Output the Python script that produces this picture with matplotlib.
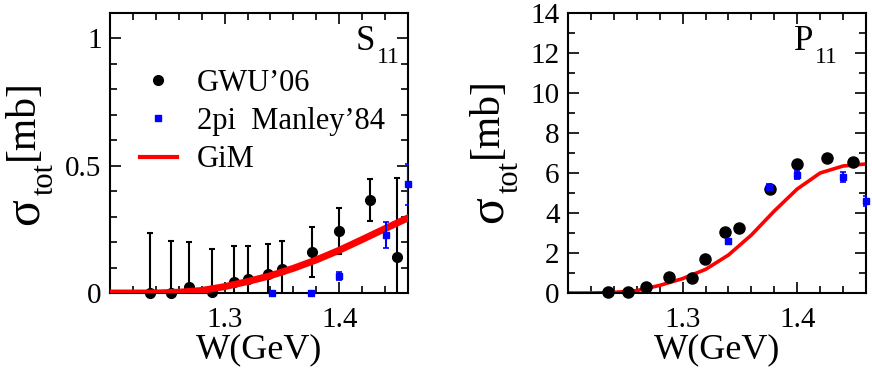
import matplotlib
matplotlib.use("Agg")
import matplotlib.pyplot as plt
from matplotlib.ticker import MultipleLocator
from matplotlib.lines import Line2D

plt.rcParams['font.family'] = ['Liberation Serif', 'DejaVu Serif']

# S11 panel data
s11_gwu_w = [1.235, 1.253, 1.269, 1.289, 1.308, 1.320, 1.3375, 1.350, 1.376, 1.400, 1.4265, 1.450]
s11_gwu_v = [0.0, 0.0, 0.022, 0.004, 0.044, 0.056, 0.075, 0.093, 0.161, 0.244, 0.365, 0.141]
s11_gwu_e = [0.235, 0.205, 0.18, 0.17, 0.14, 0.13, 0.117, 0.112, 0.10, 0.09, 0.082, 0.31]
s11_man_w = [1.341, 1.375, 1.400, 1.441, 1.460]
s11_man_v = [0.0, 0.0, 0.068, 0.227, 0.427]
s11_man_e = [0.004, 0.004, 0.015, 0.05, 0.08]
s11_gim_w = [1.20, 1.22, 1.24, 1.26, 1.28, 1.30, 1.32, 1.34, 1.36, 1.38, 1.40, 1.42, 1.44, 1.46]
s11_gim_v = [0.0, 0.0, 0.0, 0.003, 0.01, 0.025, 0.045, 0.068, 0.097, 0.13, 0.168, 0.21, 0.253, 0.295]

# P11 panel data
p11_gwu_w = [1.2346, 1.2526, 1.268, 1.288, 1.308, 1.3195, 1.337, 1.3495, 1.376, 1.400, 1.426, 1.449]
p11_gwu_v = [0.05, 0.05, 0.28, 0.82, 0.77, 1.68, 3.07, 3.23, 5.2, 6.43, 6.73, 6.57]
p11_man_w = [1.340, 1.375, 1.400, 1.440, 1.460]
p11_man_v = [2.62, 5.28, 5.9, 5.82, 4.62]
p11_man_e = [0.1, 0.15, 0.2, 0.25, 0.25]
p11_gim_w = [1.20, 1.22, 1.24, 1.26, 1.28, 1.30, 1.32, 1.34, 1.36, 1.38, 1.40, 1.42, 1.44, 1.46]
p11_gim_v = [0.0, 0.0, 0.03, 0.12, 0.38, 0.72, 1.18, 1.9, 2.9, 4.1, 5.2, 6.0, 6.35, 6.45]

W, H = 872, 375
fig = plt.figure(figsize=(W / 100, H / 100), dpi=100)
ax1 = fig.add_axes([110 / W, 82 / H, 298 / W, 280 / H])
ax2 = fig.add_axes([568 / W, 82 / H, 298 / W, 280 / H])


def px(x, y):
    # pixel position (from top left) -> figure fraction
    return x / W, 1 - y / H


def style(ax, ymax, ymaj, ymin):
    ax.set_xlim(1.2, 1.46)
    ax.set_ylim(0, ymax)
    ax.set_xticks([1.3, 1.4])
    ax.xaxis.set_minor_locator(MultipleLocator(0.02))
    ax.yaxis.set_major_locator(MultipleLocator(ymaj))
    ax.yaxis.set_minor_locator(MultipleLocator(ymin))
    ax.tick_params(which='both', direction='in', top=True, right=True, width=1.2, labelsize=21, pad=6)
    ax.tick_params(axis='x', which='major', pad=10)
    ax.tick_params(which='major', length=8)
    ax.tick_params(which='minor', length=5)
    for s in ax.spines.values():
        s.set_linewidth(1.5)
    ax.set_xlabel('W(GeV)', fontsize=26, labelpad=0)


def ylab(xs, xt, y0):
    fig.text(*px(xs, y0 + 92), 'σ', fontsize=36, rotation=90, ha='center', va='center')
    fig.text(*px(xt, y0 + 59), 'tot', fontsize=22, rotation=90, ha='center', va='center')
    fig.text(*px(xs - 2, y0), '[mb]', fontsize=30, rotation=90, ha='center', va='center')


def plabel(x, name):
    fig.text(*px(x, 50), name, fontsize=25, ha='right', va='baseline')
    fig.text(*px(x + 2, 63), '11', fontsize=17, ha='left', va='baseline')


# left: S11
ax1.errorbar(s11_gwu_w, s11_gwu_v, yerr=s11_gwu_e, fmt='none', ecolor='black',
             elinewidth=1.5, capsize=2.5, capthick=1.5, zorder=2)
ax1.plot(s11_gwu_w, s11_gwu_v, 'o', color='black', ms=7, clip_on=False, zorder=2)
ax1.errorbar(s11_man_w, s11_man_v, yerr=s11_man_e, fmt='none', ecolor='#0000ff',
             elinewidth=1.5, capsize=2, capthick=1.2, zorder=4)
ax1.plot(s11_man_w, s11_man_v, 's', color='#0000ff', ms=4.5, clip_on=False, zorder=4)
ax1.plot(s11_gim_w, s11_gim_v, color='red', lw=5, zorder=3)
style(ax1, 1.1, 0.5, 0.1)
ax1.set_yticks([0, 0.5, 1])
ax1.set_yticklabels(['0', '0.5', '1'])
plabel(375, 'S')
ylab(25, 45, 120)

handles = [Line2D([], [], ls='none', marker='o', color='black', ms=7),
           Line2D([], [], ls='none', marker='s', color='#0000ff', ms=4.5),
           Line2D([], [], color='red', lw=3)]
fig.legend(handles, ['GWU’06', '2pi  Manley’84', 'GiM'], loc='upper left',
           bbox_to_anchor=px(140, 69), frameon=False, fontsize=22,
           handlelength=1.2, handletextpad=0.66, labelspacing=0.3,
           borderpad=0, borderaxespad=0)

# right: P11
ax2.plot(p11_gwu_w, p11_gwu_v, 'o', color='black', ms=8, clip_on=False, zorder=3)
ax2.errorbar(p11_man_w, p11_man_v, yerr=p11_man_e, fmt='none', ecolor='#0000ff',
             elinewidth=1.5, capsize=2, capthick=1.2, zorder=4)
ax2.plot(p11_man_w, p11_man_v, 's', color='#0000ff', ms=4.5, clip_on=False, zorder=4)
ax2.plot(p11_gim_w, p11_gim_v, color='red', lw=2.6, zorder=2)
style(ax2, 14, 2, 1)
plabel(813, 'P')
ylab(489, 510, 118)

fig.savefig('out.png', dpi=100)
